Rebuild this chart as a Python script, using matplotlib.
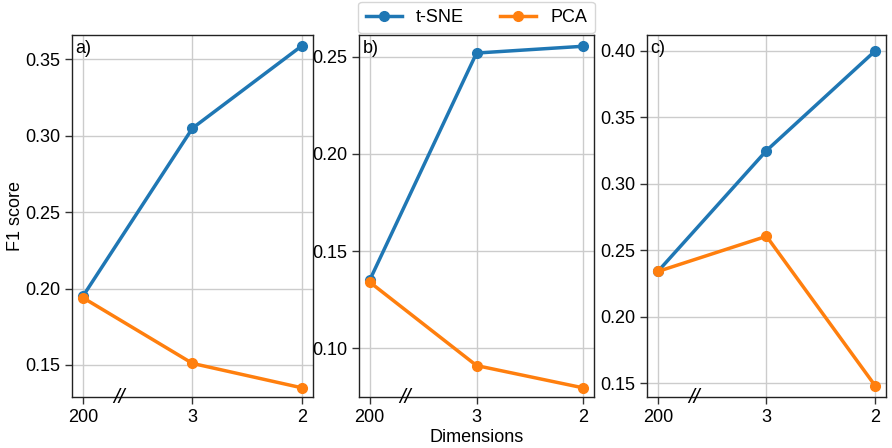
import matplotlib
matplotlib.use("Agg")
import matplotlib.pyplot as plt
import matplotlib.transforms as mtransforms
from matplotlib.ticker import MultipleLocator

plt.rcParams["font.family"] = ["Liberation Sans", "DejaVu Sans"]
plt.rcParams["font.size"] = 13

dimensions = ["200", "3", "2"]
panel_labels = ["a)", "b)", "c)"]

tsne_scores = [
    [0.195, 0.305, 0.359],
    [0.135, 0.252, 0.2555],
    [0.234, 0.325, 0.400],
]
pca_scores = [
    [0.194, 0.151, 0.135],
    [0.134, 0.091, 0.0795],
    [0.234, 0.2605, 0.148],
]
y_limits = [
    (0.129, 0.366),
    (0.0748, 0.2613),
    (0.1395, 0.412),
]

fig = plt.figure(figsize=(8.92, 4.48), dpi=100)
positions = [
    [0.0807, 0.1138, 0.2702, 0.8081],
    [0.4025, 0.1138, 0.2635, 0.8081],
    [0.7253, 0.1138, 0.2680, 0.8081],
]

axes = []
for i, pos in enumerate(positions):
    ax = fig.add_axes(pos)
    x = list(range(len(dimensions)))
    ax.plot(x, tsne_scores[i], "-o", color="#1f77b4", lw=2.5, ms=7, label="t-SNE", zorder=3)
    ax.plot(x, pca_scores[i], "-o", color="#ff7f0e", lw=2.5, ms=7, label="PCA", zorder=3)
    ax.set_xticks(x)
    ax.set_xticklabels(dimensions)
    ax.set_ylim(*y_limits[i])
    ax.yaxis.set_major_locator(MultipleLocator(0.05))
    ax.grid(True, color="#cccccc", lw=1)
    ax.set_axisbelow(True)
    for s in ax.spines.values():
        s.set_color("#222222")
        s.set_linewidth(1.0)
    ax.tick_params(direction="out", length=5, width=1, color="#333333", labelsize=13)
    ax.text(0.015, 0.985, panel_labels[i], transform=ax.transAxes, ha="left", va="top", fontsize=13)
    # axis break marker between 200 and 3
    trans = mtransforms.blended_transform_factory(ax.transData, ax.transAxes)
    ax.text(0.33, 0.0, "//", transform=trans, ha="center", va="center", fontsize=15,
            fontstyle="italic", clip_on=False, zorder=5)
    axes.append(ax)

axes[0].set_ylabel("F1 score", fontsize=13, labelpad=1)
axes[1].set_xlabel("Dimensions", fontsize=13, labelpad=2)
axes[1].legend(loc="lower center", bbox_to_anchor=(0.5, 1.0), ncol=2, frameon=True,
               borderaxespad=0.1, fontsize=13, handlelength=2.0, columnspacing=2.0)

fig.savefig("out.png", dpi=100)
